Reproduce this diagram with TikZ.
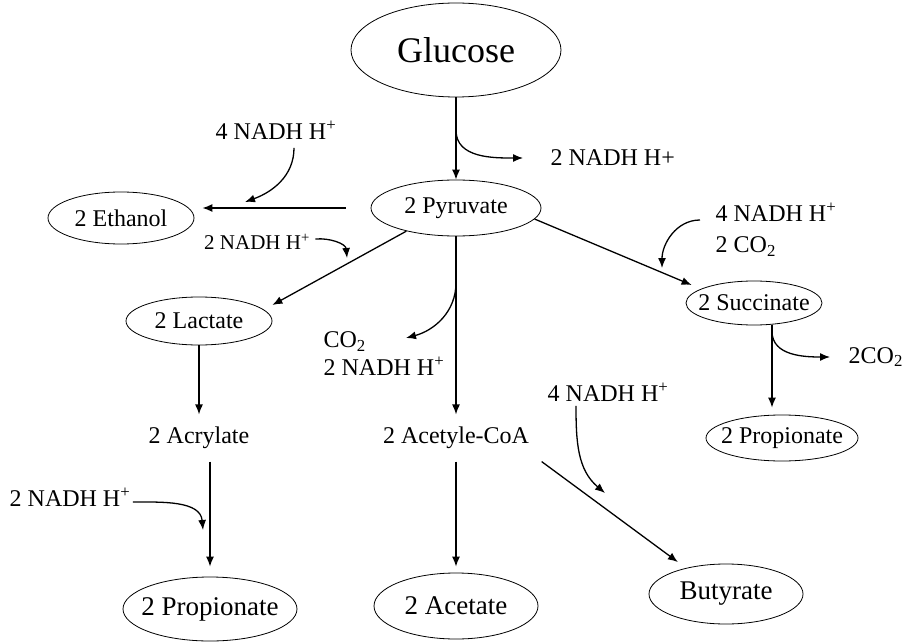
\documentclass[tikz,border=0pt]{standalone}
\usepackage{fontspec}
\setmainfont{Liberation Serif}
\usepackage{tikz}
\usetikzlibrary{calc}
\usetikzlibrary{shapes.geometric, arrows.meta}

\begin{document}
\begin{tikzpicture}[x=1pt,y=1pt,>={Latex[length=10pt,width=8pt]},line width=1.3pt,
                    pool node/.style={ellipse,draw,line width=0.8pt,inner ysep=0pt,inner xsep=-12pt,font=\fontsize{24}{28}\selectfont},
                    side node/.style={inner sep=0pt,font=\fontsize{24}{28}\selectfont}]
 \useasboundingbox (0,0) rectangle (904,-644);

 \node[pool node,minimum width=210,minimum height=94,font=\fontsize{36}{40}\selectfont] (glucose) at (456,-50) {Glucose};

 \node[pool node,minimum width=170,minimum height=56] (pyruvate) at (456,-208) {2 Pyruvate};

 \node[pool node,minimum width=146,minimum height=52] (ethanol) at (121,-218) {2 Ethanol};

 \node[pool node,minimum width=146,minimum height=48] (lactate) at (199,-321) {2 Lactate};

 \node[pool node,minimum width=136,minimum height=44] (succinate) at (754,-303) {2 Succinate};

 \node[pool node,minimum width=152,minimum height=46] (propionateR) at (782,-438) {2 Propionate};

 \node[side node,inner sep=12pt] (acrylate) at (199,-438) {2 Acrylate};

 \node[side node,inner sep=12pt] (acetyl) at (456,-438) {2 Acetyle-CoA};

 \node[pool node,minimum width=174,minimum height=64,font=\fontsize{27}{30}\selectfont] (propionateL) at (210,-609) {2 Propionate};

 \node[pool node,minimum width=164,minimum height=66,font=\fontsize{27}{30}\selectfont] (acetate) at (456,-606) {2 Acetate};

 \node[pool node,minimum width=154,minimum height=60,font=\fontsize{27}{30}\selectfont] (butyrate) at (726,-594) {Butyrate};

 % cofactor labels
 \node[side node,anchor=west] (nadhA) at (550,-158) {2 NADH H+};
 \node[side node] (nadhB) at (276,-130) {4 NADH H\textsuperscript{+}};
 \node[side node,font=\fontsize{21}{24}\selectfont] (nadhC) at (257,-242) {2 NADH H\textsuperscript{+}};
 \node[side node,anchor=west,align=left] (nadhD) at (323,-354) {CO\textsubscript{2}\\2 NADH H\textsuperscript{+}};
 \node[side node] (nadhE) at (608,-392) {4 NADH H\textsuperscript{+}};
 \node[side node,anchor=west,align=left,font=\fontsize{24}{31}\selectfont] (nadhF) at (715,-230) {4 NADH H\textsuperscript{+}\\2 CO\textsubscript{2}};
 \node[side node,anchor=west] (co2) at (848,-357) {2CO\textsubscript{2}};
 \node[side node] (nadhG) at (70,-497) {2 NADH H\textsuperscript{+}};

 \coordinate (tipB) at (245,-202);
 \coordinate (tipC) at (347,-258);
 \coordinate (tipD) at (406,-338);
 \coordinate (tipE) at (605,-493);
 \coordinate (tipF) at (662,-268);
 \coordinate (tipG) at (203,-530);

  \path[->]
    (glucose) edge (pyruvate)
    (pyruvate.west) edge[shorten <=25pt] ($(pyruvate.west -| ethanol.east)+(8,0)$)
    (pyruvate.205) edge ($(lactate.east)+(0,16)$)
    (pyruvate) edge (acetyl)
    (pyruvate.-8) edge ($(succinate.west)+(6,18)$)
    (lactate) edge (acrylate)
    (acrylate.south -| propionateL.north) edge[shorten >=10pt] (propionateL.north)
    (acetyl) edge[shorten >=6pt] (acetate)
    (acetyl.south east) edge[shorten >=10pt] (butyrate.147)
    ([xshift=18pt]succinate.south) edge ([xshift=-10pt,yshift=7pt]propionateR.north);

  % side branches
  \draw[->] ($(glucose.south)!0.4!(pyruvate.north)$) to[out=-90,in=180] ([xshift=-27pt]nadhA.west);
  \draw[->] ([xshift=18pt,yshift=-8pt]nadhB.south) to[out=-90,in=20] (tipB);
  \draw[->] ([xshift=5pt,yshift=3pt]nadhC.east) to[out=5,in=95] (tipC);
  \draw[->] ($(pyruvate.south)!0.26!(acetyl.north)$) to[out=-90,in=15] (tipD);
  \draw[->] ([xshift=-32pt,yshift=-4pt]nadhE.south) to[out=-90,in=140] (tipE);
  \draw[->] ([xshift=-15pt,yshift=10pt]nadhF.west) to[out=180,in=90] (tipF);
  \draw[->] ([xshift=18pt,yshift=-6pt]succinate.south) to[out=-90,in=180] ([xshift=-18pt]co2.west);
  \draw[->] ([xshift=2pt,yshift=-5pt]nadhG.east) to[out=0,in=95] (tipG);

\end{tikzpicture}
\end{document}
